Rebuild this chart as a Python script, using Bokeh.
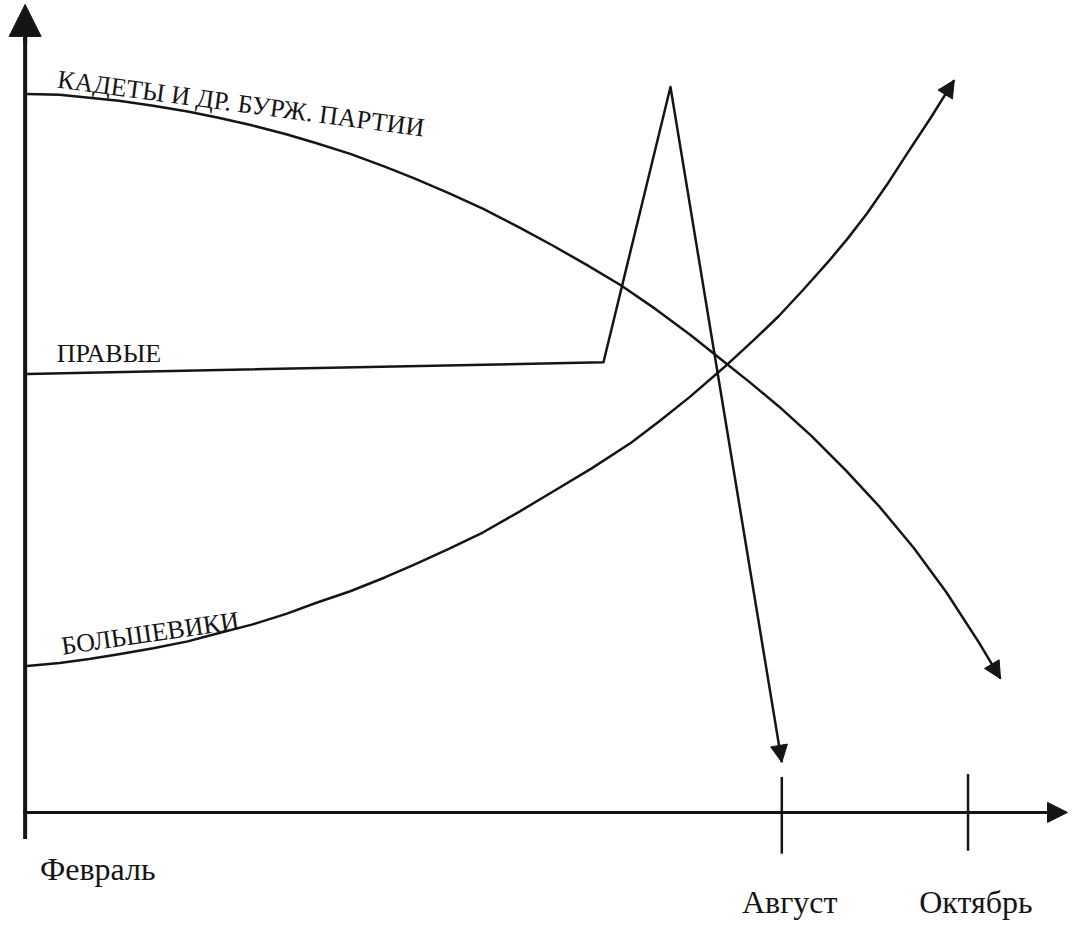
from bokeh.plotting import figure
from bokeh.models import Range1d, Arrow, NormalHead
from bokeh.core.properties import value
from bokeh.embed import file_html
from bokeh.resources import INLINE

# ---- data (picture units, y grows downward) ----
kadety_x = [27, 60, 90, 120, 155, 190, 220, 255, 290, 320, 355, 390, 420, 455, 490, 525, 560,
            595, 630, 665, 700, 735, 760, 790, 823, 858, 893, 927, 960, 993, 1015]
kadety_y = [95, 96, 99, 102, 107, 113, 119, 127, 136, 145, 156, 169, 181, 196, 212, 230, 249,
            269, 290, 314, 340, 368, 388, 413, 443, 478, 516, 557, 602, 653, 690]

bolsheviki_x = [27, 60, 90, 120, 155, 190, 220, 255, 290, 320, 355, 390, 420, 455, 490, 525, 560,
                600, 640, 670, 700, 738, 765, 790, 815, 840, 860, 880, 900, 920, 945, 968]
bolsheviki_y = [677, 674, 670, 665, 659, 652, 644, 635, 624, 613, 601, 587, 574, 558, 541, 521, 500,
                476, 450, 427, 403, 370, 345, 321, 294, 266, 242, 216, 187, 156, 118, 81]

pravye_x = [27, 612, 680, 793]
pravye_y = [380, 368, 88, 775]

series_labels = ["КАДЕТЫ И ДР. БУРЖ. ПАРТИИ", "ПРАВЫЕ", "БОЛЬШЕВИКИ"]
month_labels = ["Февраль", "Август", "Октябрь"]
month_x = [25, 793, 982]

axis_x0, axis_y0 = 25, 826
axis_x_end, axis_y_end = 1083, 4

INK = "#151515"
FONT = value("Liberation Serif")

p = figure(width=1069, height=921, x_range=Range1d(0, 1085), y_range=Range1d(937, 0),
           output_backend="svg", toolbar_location=None, min_border=0,
           x_axis_type=None, y_axis_type=None)
p.grid.visible = False
p.outline_line_color = None
p.background_fill_color = "white"
p.border_fill_color = "white"

# axes
p.segment(x0=[axis_x0], y0=[853], x1=[axis_x0], y1=[axis_y_end + 20], line_color=INK, line_width=4)
p.add_layout(Arrow(end=NormalHead(size=32, fill_color=INK, line_color=INK, line_width=1),
                   x_start=axis_x0, y_start=axis_y_end + 40, x_end=axis_x0, y_end=axis_y_end,
                   line_color=INK, line_width=4))
p.segment(x0=[axis_x0 - 2], y0=[axis_y0], x1=[axis_x_end - 10], y1=[axis_y0], line_color=INK, line_width=3)
p.add_layout(Arrow(end=NormalHead(size=20, fill_color=INK, line_color=INK, line_width=1),
                   x_start=axis_x_end - 30, y_start=axis_y0, x_end=axis_x_end, y_end=axis_y0,
                   line_color=INK, line_width=3))

# month ticks
p.segment(x0=month_x[1:], y0=[790, 787], x1=month_x[1:], y1=[868, 865], line_color=INK, line_width=2.5)

# curves
for xs, ys in [(kadety_x, kadety_y), (bolsheviki_x, bolsheviki_y), (pravye_x, pravye_y)]:
    p.line(xs, ys, line_color=INK, line_width=2.5, line_join="round")
    p.add_layout(Arrow(end=NormalHead(size=17, fill_color=INK, line_color=INK, line_width=1),
                       x_start=xs[-2], y_start=ys[-2], x_end=xs[-1], y_end=ys[-1],
                       line_alpha=0))

# series labels
p.text(x=[58], y=[80], text=[series_labels[0]], angle=-0.133, text_font=FONT,
       text_font_size="26px", text_color=INK, text_align="left", text_baseline="alphabetic")
p.text(x=[57], y=[359], text=[series_labels[1]], angle=0, text_font=FONT,
       text_font_size="26px", text_color=INK, text_align="left", text_baseline="alphabetic")
p.text(x=[62], y=[657], text=[series_labels[2]], angle=0.145, text_font=FONT,
       text_font_size="26px", text_color=INK, text_align="left", text_baseline="alphabetic")

# month labels
p.text(x=[40], y=[884], text=[month_labels[0]], text_font=FONT, text_font_size="32px",
       text_color=INK, text_align="left", text_baseline="alphabetic")
p.text(x=[m + 8 for m in month_x[1:]], y=[917, 917], text=month_labels[1:], text_font=FONT,
       text_font_size="32px", text_color=INK, text_align="center", text_baseline="alphabetic")

open("out.html", "w").write(file_html(p, INLINE))
